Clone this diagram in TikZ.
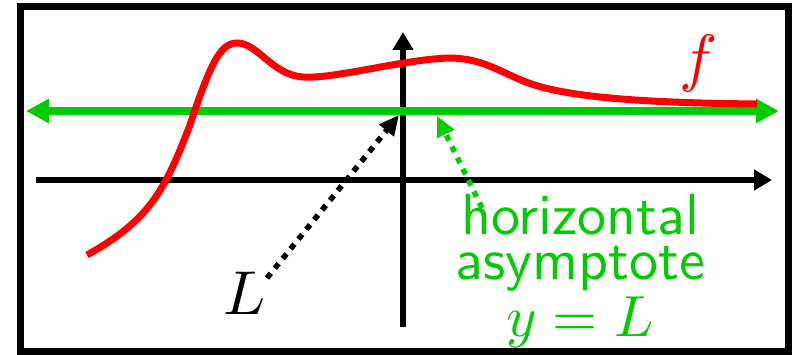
\documentclass[tikz,border=0pt]{standalone}
\usepackage{fontspec}
\usetikzlibrary{arrows.meta}
\definecolor{agreen}{RGB}{0,204,0}
\definecolor{fred}{RGB}{255,0,0}
\tikzset{
  axisline/.style={line width=6pt, -{Triangle[length=18pt,width=20pt]}},
  asymline/.style={agreen, line width=8pt, {Triangle[length=23pt,width=23pt]}-{Triangle[length=23pt,width=23pt]}},
  curveline/.style={fred, line width=7pt},
  pointer/.style={line width=5.5pt, dash pattern=on 6pt off 6.5pt, -{Triangle[length=20pt,width=18pt]}},
  biglabel/.style={inner sep=0pt},
}
\begin{document}
\begin{tikzpicture}[x=1pt,y=-1pt]
\useasboundingbox (0,0) rectangle (792,355);
% frame
\draw[line width=7pt] (20,7) rectangle (788,351);
% axes
\coordinate (xs) at (36,180);
\coordinate (xe) at (772,180);
\coordinate (ys) at (403,327);
\coordinate (ye) at (403,32);
\draw[axisline] (xs) -- (xe);
\draw[axisline] (ys) -- (ye);
% asymptote
\coordinate (as) at (26,111);
\coordinate (ae) at (779,111);
\draw[asymline] (as) -- (ae);
% curve
\draw[curveline, line cap=butt] (87,255) .. controls (150,220) and (165,190) .. (190,125)
  .. controls (210,65) and (220,43) .. (237,43)
  .. controls (258,43) and (272,75) .. (303,77)
  .. controls (335,79) and (400,60) .. (448,58)
  .. controls (490,58) and (505,78) .. (545,88)
  .. controls (590,99) and (660,103) .. (757,104);
% labels
\node[biglabel, text=fred, scale=6.4] (flab) at (699,64) {$f$};
\node[biglabel, scale=6.2] (Llab) at (245,293) {$L$};
\node[font=\sffamily\fontsize{10}{7.76}\selectfont, text=agreen, align=center, inner sep=0pt, scale=5.8] (asym) at (580,271) {horizontal\\asymptote\\$y=L$};
% pointers
\coordinate (Lstart) at (267,278);
\coordinate (Lpt) at (399,115);
\coordinate (Astart) at (482,208);
\coordinate (Apt) at (437,116);
\draw[pointer, black] (Lstart) -- (Lpt);
\draw[pointer, agreen] (Astart) -- (Apt);
\end{tikzpicture}
\end{document}
